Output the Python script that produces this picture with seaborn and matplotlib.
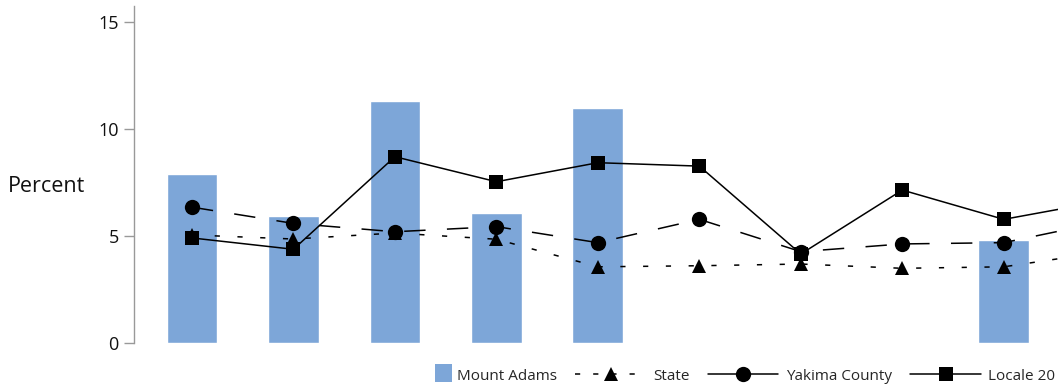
import numpy as np
import pandas as pd
import matplotlib
matplotlib.use("Agg")
import matplotlib.pyplot as plt
from matplotlib.lines import Line2D
from matplotlib.patches import Patch, Rectangle
from matplotlib.legend_handler import HandlerPatch
import seaborn as sns

# ---- data ----
categories = ["C1", "C2", "C3", "C4", "C5", "C6", "C7", "C8", "C9", "C10"]
mount_adams = [7.9, 5.93, 11.3, 6.07, 10.98, np.nan, np.nan, np.nan, 4.8, np.nan]
state = [5.04, 4.85, 5.13, 4.84, 3.55, 3.6, 3.68, 3.48, 3.55, 4.25]
yakima = [6.34, 5.58, 5.19, 5.43, 4.68, 5.77, 4.26, 4.62, 4.68, 5.67]
locale20 = [4.9, 4.37, 8.70, 7.53, 8.42, 8.26, 4.15, 7.14, 5.77, 6.64]
yticks = [0, 5, 10, 15]
labels = ["Mount Adams", "State", "Yakima County", "Locale 20"]

sns.set_theme(style="white")
plt.rcParams["font.family"] = ["Open Sans", "DejaVu Sans"]

fig = plt.figure(figsize=(10.58, 3.86), dpi=100)
ax = fig.add_axes([134 / 1058, 43.3 / 386, 1022 / 1058, 336.7 / 386])

df = pd.DataFrame({"cat": categories, "val": mount_adams})
bar_color = "#7DA6D8"
sns.barplot(data=df, x="cat", y="val", order=categories, color=bar_color,
            saturation=1, width=0.5, ax=ax)

idx = np.arange(len(categories))
lw = 1.1
state_ls = (0, (3.4, 11.5))
yak_ls = (0, (14, 14))
sns.lineplot(x=idx, y=state, ax=ax, color="black", marker="^", markersize=10,
             linewidth=lw, linestyle=state_ls, markeredgewidth=0)
sns.lineplot(x=idx, y=yakima, ax=ax, color="black", marker="o", markersize=11,
             linewidth=lw, linestyle=yak_ls, markeredgewidth=0)
sns.lineplot(x=idx, y=locale20, ax=ax, color="black", marker="s", markersize=10,
             linewidth=lw, linestyle="-", markeredgewidth=0)

ax.set_xlim(-0.571, 9.5)
ax.set_ylim(0, 15.75)
ax.set_yticks(yticks)
ax.set_xticks([])
ax.set_xlabel("")
ax.set_ylabel("Percent", rotation=0, fontsize=15.5, color="#111111")
ax.yaxis.label.set_va("center")
ax.yaxis.label.set_ha("center")
ax.yaxis.set_label_coords(-0.0861, 0.465)
for s in ["top", "right", "bottom"]:
    ax.spines[s].set_visible(False)
ax.spines["left"].set_color("#999999")
ax.spines["left"].set_linewidth(1.0)
ax.tick_params(axis="y", left=True, length=7, width=1, color="#999999",
               labelsize=13, labelcolor="#111111", pad=4, direction="out")


def square_patch(legend, orig_handle, xdescent, ydescent, width, height, fontsize):
    side = 12.5
    return Rectangle((width - side - xdescent + 2, -ydescent + (height - side) / 2 + 1),
                     side, side)


handles = [
    Patch(facecolor=bar_color, edgecolor="none"),
    Line2D([], [], color="black", marker="^", markersize=10, linewidth=lw,
           linestyle=(0, (3.4, 8.5)), markeredgewidth=0),
    Line2D([], [], color="black", marker="o", markersize=11, linewidth=lw,
           linestyle="-", markeredgewidth=0),
    Line2D([], [], color="black", marker="s", markersize=10, linewidth=lw,
           linestyle="-", markeredgewidth=0),
]
fig.legend(handles, labels, loc="center right", bbox_to_anchor=(1.0105, 10 / 386),
           ncol=4, frameon=False, fontsize=11, handlelength=4.6, handletextpad=0.5,
           columnspacing=1.2, handleheight=0.8,
           handler_map={Patch: HandlerPatch(patch_func=square_patch)})

fig.savefig("out.png", dpi=100)
